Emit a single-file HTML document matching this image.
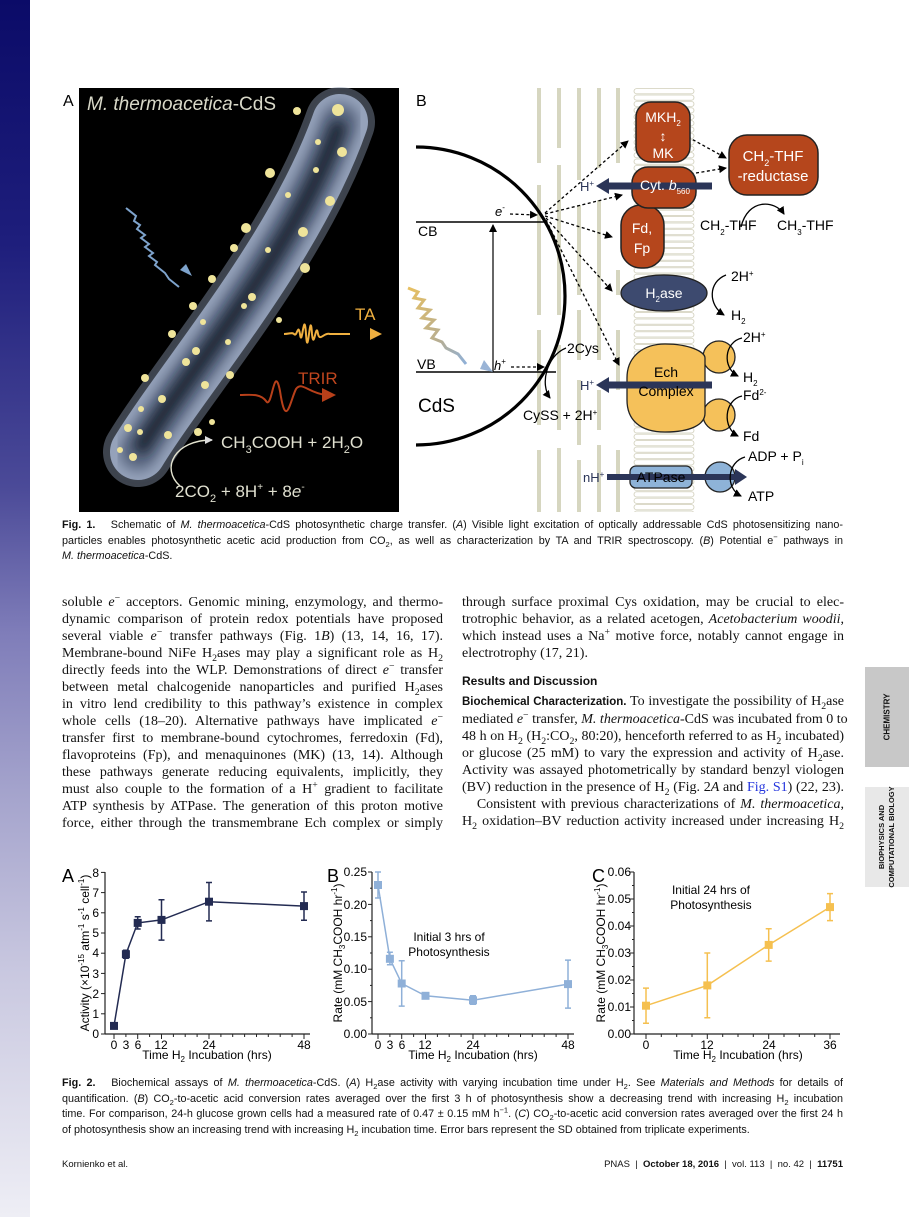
<!DOCTYPE html>
<html><head><meta charset="utf-8">
<style>
html,body{margin:0;padding:0;background:#fff;}
body{width:909px;height:1217px;position:relative;overflow:hidden;font-family:"Liberation Serif",serif;color:#111;}
.band{position:absolute;left:0;top:0;width:30px;height:1217px;background:linear-gradient(to bottom,#0b0b68 0%,#1e1e7c 20%,#4b4a98 40%,#7f7db9 52%,#a4a3cc 65%,#c9c8e0 80%,#eeeef5 100%);}
.col{position:absolute;font-size:14px;line-height:17px;}
.col div{text-align:justify;text-align-last:justify;white-space:nowrap;}
.col div.l{text-align-last:left;}
.cap{position:absolute;left:62px;width:781px;font-family:"Liberation Sans",sans-serif;font-size:10.8px;line-height:15.6px;}
.cap div{text-align:justify;text-align-last:justify;white-space:nowrap;}
.cap div.l{text-align-last:left;}
.sans{font-family:"Liberation Sans",sans-serif;}
sub,sup{font-size:70%;line-height:0;}
.tab{position:absolute;left:865px;width:44px;font-family:"Liberation Sans",sans-serif;font-weight:bold;font-size:8px;}
</style></head><body>
<div class="band"></div>
<svg width="909" height="1217" style="position:absolute;left:0;top:0" font-family="Liberation Sans, sans-serif">
<defs>
<marker id="ah" markerWidth="8" markerHeight="8" refX="7" refY="4" orient="auto" markerUnits="userSpaceOnUse"><path d="M0,0 L8,4 L0,8 z" fill="#000"/></marker>
<marker id="ahl" markerWidth="8" markerHeight="8" refX="7" refY="4" orient="auto" markerUnits="userSpaceOnUse"><path d="M0,0 L8,4 L0,8 z" fill="#ddd"/></marker>
<pattern id="lip" x="633" y="88" width="62" height="6.4" patternUnits="userSpaceOnUse"><rect x="1" y="0.6" width="60" height="5.2" rx="2.6" fill="#fff" stroke="#cfcdb8" stroke-width="0.8"/></pattern>
<linearGradient id="wv" x1="0" y1="0" x2="1" y2="1"><stop offset="0" stop-color="#e8c060"/><stop offset="0.6" stop-color="#b8ae90"/><stop offset="1" stop-color="#8fb0d8"/></linearGradient>
<filter id="bl"><feGaussianBlur stdDeviation="6"/></filter>
</defs>

<!-- PANEL A -->
<text x="63" y="106" font-size="16">A</text>
<rect x="79" y="88" width="320" height="424" fill="#000"/>
<path d="M138,452 C185,375 295,250 340,122" stroke="#8894aa" stroke-opacity="0.45" stroke-width="70" fill="none" stroke-linecap="round"/>
<path d="M138,452 C185,375 295,250 340,122" stroke="#95a2ba" stroke-width="56" fill="none" stroke-linecap="round"/>
<path d="M138,452 C185,375 295,250 340,122" stroke="#5d6a84" stroke-width="38" fill="none" stroke-linecap="round" filter="url(#bl)"/>
<path d="M142,446 C185,375 295,250 338,128" stroke="#1e2636" stroke-width="16" fill="none" stroke-linecap="round" filter="url(#bl)"/>
<g fill="#efe49a">
<circle cx="297" cy="111" r="4"/><circle cx="338" cy="110" r="6"/><circle cx="342" cy="152" r="5"/><circle cx="318" cy="142" r="3"/><circle cx="270" cy="173" r="5"/><circle cx="316" cy="170" r="3"/><circle cx="330" cy="201" r="5"/><circle cx="288" cy="195" r="3"/><circle cx="246" cy="228" r="5"/><circle cx="303" cy="232" r="5"/><circle cx="234" cy="248" r="4"/><circle cx="268" cy="250" r="3"/><circle cx="305" cy="268" r="5"/><circle cx="212" cy="279" r="4"/><circle cx="252" cy="297" r="4"/><circle cx="193" cy="306" r="4"/><circle cx="203" cy="322" r="3"/><circle cx="279" cy="320" r="3"/><circle cx="172" cy="334" r="4"/><circle cx="228" cy="342" r="3"/><circle cx="196" cy="351" r="4"/><circle cx="186" cy="362" r="4"/><circle cx="145" cy="378" r="4"/><circle cx="230" cy="375" r="4"/><circle cx="205" cy="385" r="4"/><circle cx="141" cy="409" r="3"/><circle cx="162" cy="399" r="4"/><circle cx="128" cy="428" r="4"/><circle cx="140" cy="432" r="3"/><circle cx="120" cy="450" r="3"/><circle cx="133" cy="457" r="4"/><circle cx="168" cy="435" r="4"/><circle cx="198" cy="432" r="4"/><circle cx="212" cy="422" r="3"/><circle cx="244" cy="306" r="3"/>
</g>
<text x="87" y="110" font-size="19" fill="#d8d8c8"><tspan font-style="italic">M. thermoacetica</tspan>-CdS</text>
<path d="M126,208 l10,8 l-2,5 l6,4 l-3,4 l8,6 l-4,3 l8,6 l-4,3 l8,6 l-4,3 l8,6 l-2,3 l10,8 l4,6 l10,8" stroke="#7ea3cc" stroke-width="2" fill="none"/>
<path d="M180,270 l12,6 l-6,-12 z" fill="#7ea3cc"/>
<path d="M284,334 c6,0 8,-2 10,0 c3,4 4,-12 6,0 c2,16 4,-28 6,0 c2,30 4,-30 6,0 c2,18 4,-14 6,0 c2,8 6,-2 12,0 l20,0" stroke="#f0b040" stroke-width="2" fill="none"/>
<path d="M370,328 l12,6 l-12,6 z" fill="#f0b040"/>
<text x="355" y="320" font-size="17" fill="#f0b040">TA</text>
<path d="M240,395 c10,0 20,-2 26,6 c6,10 8,-40 14,-10 c6,40 10,10 16,-2 c6,-8 12,4 30,6" stroke="#b8401a" stroke-width="2" fill="none"/>
<path d="M322,388 l14,7 l-14,7 z" fill="#b8401a"/>
<text x="298" y="384" font-size="17" fill="#c0461e">TRIR</text>
<path d="M180,486 C160,468 175,440 212,440" stroke="#e4e4d0" stroke-width="1.4" fill="none" marker-end="url(#ahl)"/>
<text x="221" y="448" font-size="17" fill="#e0e0d0">CH<tspan font-size="11" dy="5">3</tspan><tspan dy="-5">COOH + 2H</tspan><tspan font-size="11" dy="5">2</tspan><tspan dy="-5">O</tspan></text>
<text x="175" y="497" font-size="17" fill="#e0e0d0">2CO<tspan font-size="11" dy="5">2</tspan><tspan dy="-5"> + 8H</tspan><tspan font-size="10" dy="-7">+</tspan><tspan dy="7"> + 8</tspan><tspan font-style="italic">e</tspan><tspan font-size="10" dy="-7">-</tspan></text>

<!-- PANEL B -->
<text x="416" y="106" font-size="16">B</text>
<g fill="#d6d6c0">
<rect x="537" y="88" width="4" height="75"/><rect x="537" y="185" width="4" height="130"/><rect x="537" y="330" width="4" height="95"/><rect x="537" y="450" width="4" height="62"/>
<rect x="557" y="88" width="4" height="60"/><rect x="557" y="165" width="4" height="150"/><rect x="557" y="345" width="4" height="85"/><rect x="557" y="448" width="4" height="64"/>
<rect x="577" y="88" width="4" height="92"/><rect x="577" y="205" width="4" height="90"/><rect x="577" y="310" width="4" height="50"/><rect x="577" y="380" width="4" height="65"/><rect x="577" y="460" width="4" height="52"/>
<rect x="597" y="88" width="4" height="80"/><rect x="597" y="200" width="4" height="160"/><rect x="597" y="390" width="4" height="40"/><rect x="597" y="445" width="4" height="67"/>
<rect x="616" y="88" width="4" height="75"/><rect x="616" y="270" width="4" height="25"/><rect x="616" y="330" width="4" height="60"/><rect x="616" y="450" width="4" height="62"/>
</g>
<rect x="633" y="88" width="62" height="424" fill="url(#lip)"/>
<path d="M416,147 A149,149 0 0 1 416,445" stroke="#000" stroke-width="3.2" fill="none"/>
<line x1="416" y1="222" x2="546" y2="222" stroke="#000" stroke-width="1.5"/>
<line x1="416" y1="372" x2="556" y2="372" stroke="#000" stroke-width="1.5"/>
<line x1="493" y1="372" x2="493" y2="225" stroke="#000" stroke-width="1.2" marker-end="url(#ah)"/>
<text x="418" y="236" font-size="14">CB</text>
<text x="417" y="369" font-size="14">VB</text>
<text x="418" y="412" font-size="19">CdS</text>
<path d="M408,288 l10,4 l-4,6 l10,2 l-6,8 l12,2 l-8,8 l12,2 l-8,8 l12,2 l-6,8 l10,4 l4,6 l12,6 l8,10" stroke="url(#wv)" stroke-width="3" fill="none"/>
<path d="M484,360 l9,12 l-13,-3 z" fill="#9ab4d6"/>
<text x="495" y="216" font-size="13" font-style="italic">e<tspan font-size="8" dy="-6" font-style="normal">-</tspan></text>
<text x="494" y="370" font-size="13" font-style="italic">h<tspan font-size="8" dy="-6" font-style="normal">+</tspan></text>
<g stroke="#000" stroke-width="1.3" stroke-dasharray="3,2.5" fill="none" marker-end="url(#ah)">
<line x1="510" y1="214" x2="537" y2="215"/>
<line x1="511" y1="367" x2="544" y2="367"/>
<line x1="545" y1="213" x2="628" y2="141"/>
<line x1="545" y1="214" x2="622" y2="195"/>
<line x1="545" y1="216" x2="612" y2="237"/>
<line x1="546" y1="218" x2="612" y2="291"/>
<line x1="546" y1="220" x2="619" y2="365"/>
<line x1="688" y1="137" x2="726" y2="158"/>
<line x1="696" y1="173" x2="726" y2="168"/>
</g>
<rect x="729" y="135" width="89" height="60" rx="18" fill="#b5461c" stroke="#222" stroke-width="1.5"/>
<text x="773" y="161" font-size="15" fill="#fff" text-anchor="middle">CH<tspan font-size="9" dy="5">2</tspan><tspan dy="-5">-THF</tspan></text>
<text x="773" y="181" font-size="15" fill="#fff" text-anchor="middle">-reductase</text>
<path d="M741,227 C748,198 775,200 784,214" stroke="#000" stroke-width="1.3" fill="none" marker-end="url(#ah)"/>
<text x="700" y="230" font-size="14">CH<tspan font-size="8" dy="5">2</tspan><tspan dy="-5">-THF</tspan></text>
<text x="777" y="230" font-size="14">CH<tspan font-size="8" dy="5">3</tspan><tspan dy="-5">-THF</tspan></text>
<rect x="636" y="102" width="54" height="60" rx="15" fill="#b5461c" stroke="#222" stroke-width="1.5"/>
<text x="663" y="122" font-size="14" fill="#fff" text-anchor="middle">MKH<tspan font-size="8" dy="4">2</tspan></text>
<text x="663" y="141" font-size="14" fill="#fff" text-anchor="middle">↕</text>
<text x="663" y="158" font-size="14" fill="#fff" text-anchor="middle">MK</text>
<rect x="621" y="205" width="43" height="63" rx="20" fill="#b5461c" stroke="#222" stroke-width="1.5"/>
<text x="642" y="233" font-size="14" fill="#fff" text-anchor="middle">Fd,</text>
<text x="642" y="253" font-size="14" fill="#fff" text-anchor="middle">Fp</text>
<rect x="632" y="167" width="64" height="41" rx="16" fill="#b5461c" stroke="#222" stroke-width="1.5"/>
<path d="M712,186 L606,186" stroke="#2b3558" stroke-width="7"/>
<path d="M609,178 L596,186 L609,194 z" fill="#2b3558"/>
<text x="580" y="191" font-size="13" fill="#2b3558">H<tspan font-size="8" dy="-5">+</tspan></text>
<text x="665" y="190" font-size="14" fill="#fff" text-anchor="middle">Cyt. <tspan font-style="italic">b</tspan><tspan font-size="8" dy="4">560</tspan></text>
<ellipse cx="664" cy="293" rx="43" ry="18" fill="#3d4a6f" stroke="#222" stroke-width="1.3"/>
<text x="664" y="298" font-size="14" fill="#fff" text-anchor="middle">H<tspan font-size="8" dy="4">2</tspan><tspan dy="-4">ase</tspan></text>
<path d="M726,275 C708,282 708,305 724,315" stroke="#000" stroke-width="1.3" fill="none" marker-end="url(#ah)"/>
<text x="731" y="281" font-size="14">2H<tspan font-size="8" dy="-5">+</tspan></text>
<text x="731" y="320" font-size="14">H<tspan font-size="8" dy="4">2</tspan></text>
<circle cx="719" cy="357" r="16" fill="#f5c15a" stroke="#222" stroke-width="1.3"/>
<circle cx="719" cy="415" r="16" fill="#f5c15a" stroke="#222" stroke-width="1.3"/>
<path d="M665,344 C690,344 705,352 705,358 L705,413 C705,425 690,432 665,432 C640,432 627,420 627,400 L627,378 C627,355 645,344 665,344 z" fill="#f5c15a" stroke="#222" stroke-width="1.3"/>
<path d="M712,385 L606,385" stroke="#2b3558" stroke-width="7"/>
<path d="M609,377 L596,385 L609,393 z" fill="#2b3558"/>
<text x="580" y="390" font-size="13" fill="#2b3558">H<tspan font-size="8" dy="-5">+</tspan></text>
<text x="666" y="377" font-size="14" text-anchor="middle">Ech</text>
<text x="666" y="396" font-size="14" text-anchor="middle">Complex</text>
<path d="M742,338 C724,342 722,368 738,376" stroke="#000" stroke-width="1.3" fill="none" marker-end="url(#ah)"/>
<text x="743" y="342" font-size="14">2H<tspan font-size="8" dy="-5">+</tspan></text>
<text x="743" y="382" font-size="14">H<tspan font-size="8" dy="4">2</tspan></text>
<path d="M742,396 C724,400 722,428 738,436" stroke="#000" stroke-width="1.3" fill="none" marker-end="url(#ah)"/>
<text x="743" y="400" font-size="14">Fd<tspan font-size="8" dy="-5">2-</tspan></text>
<text x="743" y="441" font-size="14">Fd</text>
<text x="567" y="353" font-size="14">2Cys</text>
<path d="M566,348 C546,356 540,385 550,398" stroke="#000" stroke-width="1.3" fill="none" marker-end="url(#ah)"/>
<text x="523" y="420" font-size="14">CySS + 2H<tspan font-size="8" dy="-5">+</tspan></text>
<rect x="630" y="466" width="62" height="22" rx="6" fill="#8eb3d8" stroke="#222" stroke-width="1.3"/>
<circle cx="720" cy="477" r="15" fill="#8eb3d8" stroke="#222" stroke-width="1.3"/>
<path d="M607,477 L738,477" stroke="#2b3558" stroke-width="6"/>
<path d="M735,469 L747,477 L735,485 z" fill="#2b3558"/>
<text x="661" y="482" font-size="14" text-anchor="middle">ATPase</text>
<text x="583" y="482" font-size="13" fill="#2b3558">nH<tspan font-size="8" dy="-5">+</tspan></text>
<path d="M745,457 C727,462 725,488 741,496" stroke="#000" stroke-width="1.3" fill="none" marker-end="url(#ah)"/>
<text x="748" y="461" font-size="14">ADP + P<tspan font-size="8" dy="4">i</tspan></text>
<text x="748" y="501" font-size="14">ATP</text>

<!-- CHART A -->
<g font-size="12">
<text x="62" y="882" font-size="18">A</text>
<line x1="105" y1="872" x2="105" y2="1034" stroke="#222" stroke-width="1.2"/>
<line x1="105" y1="1034" x2="310" y2="1034" stroke="#222" stroke-width="1.2"/>
<g stroke="#222" stroke-width="1">
<line x1="101" y1="1034" x2="105" y2="1034"/><line x1="101" y1="1013.8" x2="105" y2="1013.8"/><line x1="101" y1="993.6" x2="105" y2="993.6"/><line x1="101" y1="973.4" x2="105" y2="973.4"/><line x1="101" y1="953.2" x2="105" y2="953.2"/><line x1="101" y1="933" x2="105" y2="933"/><line x1="101" y1="912.8" x2="105" y2="912.8"/><line x1="101" y1="892.6" x2="105" y2="892.6"/><line x1="101" y1="872.4" x2="105" y2="872.4"/>
<line x1="114" y1="1034" x2="114" y2="1039"/><line x1="125.9" y1="1034" x2="125.9" y2="1037"/><line x1="137.7" y1="1034" x2="137.7" y2="1039"/><line x1="149.6" y1="1034" x2="149.6" y2="1037"/><line x1="161.5" y1="1034" x2="161.5" y2="1039"/><line x1="173.4" y1="1034" x2="173.4" y2="1037"/><line x1="185.2" y1="1034" x2="185.2" y2="1037"/><line x1="197.1" y1="1034" x2="197.1" y2="1037"/><line x1="209" y1="1034" x2="209" y2="1039"/><line x1="220.9" y1="1034" x2="220.9" y2="1037"/><line x1="232.7" y1="1034" x2="232.7" y2="1037"/><line x1="244.6" y1="1034" x2="244.6" y2="1037"/><line x1="256.5" y1="1034" x2="256.5" y2="1037"/><line x1="268.3" y1="1034" x2="268.3" y2="1037"/><line x1="280.2" y1="1034" x2="280.2" y2="1037"/><line x1="292.1" y1="1034" x2="292.1" y2="1037"/><line x1="304" y1="1034" x2="304" y2="1039"/>
</g>
<g text-anchor="end"><text x="99" y="1038">0</text><text x="99" y="1018">1</text><text x="99" y="998">2</text><text x="99" y="978">3</text><text x="99" y="957">4</text><text x="99" y="937">5</text><text x="99" y="917">6</text><text x="99" y="897">7</text><text x="99" y="877">8</text></g>
<g text-anchor="middle"><text x="114" y="1049">0</text><text x="126" y="1049">3</text><text x="138" y="1049">6</text><text x="161" y="1049">12</text><text x="209" y="1049">24</text><text x="304" y="1049">48</text></g>
<text x="207" y="1059" text-anchor="middle">Time H<tspan font-size="8" dy="3">2</tspan><tspan dy="-3"> Incubation (hrs)</tspan></text>
<text transform="translate(89,953) rotate(-90)" text-anchor="middle">Activity (×10<tspan font-size="8" dy="-5">-15</tspan><tspan dy="5"> atm</tspan><tspan font-size="8" dy="-5">-1</tspan><tspan dy="5"> s</tspan><tspan font-size="8" dy="-5">-1</tspan><tspan dy="5"> cell</tspan><tspan font-size="8" dy="-5">-1</tspan><tspan dy="5">)</tspan></text>
<g stroke="#232b52" stroke-width="1.5" fill="none">
<polyline points="114,1025.9 125.9,954.2 137.7,922.9 161.5,919.9 209,901.7 304,906.1"/>
<path d="M125.9,950.2V958.2M122.9,950.2h6M122.9,958.2h6 M137.7,916.8V929M134.7,916.8h6M134.7,929h6 M161.5,899.7V940.1M158.5,899.7h6M158.5,940.1h6 M209,882.5V920.9M206,882.5h6M206,920.9h6 M304,892V920.2M301,892h6M301,920.2h6"/>
</g>
<g fill="#232b52"><rect x="110" y="1021.9" width="8" height="8"/><rect x="121.9" y="950.2" width="8" height="8"/><rect x="133.7" y="918.9" width="8" height="8"/><rect x="157.5" y="915.9" width="8" height="8"/><rect x="205" y="897.7" width="8" height="8"/><rect x="300" y="902.1" width="8" height="8"/></g>
</g>

<!-- CHART B -->
<g font-size="12">
<text x="327" y="882" font-size="18">B</text>
<line x1="372" y1="872" x2="372" y2="1034" stroke="#222" stroke-width="1.2"/>
<line x1="372" y1="1034" x2="574" y2="1034" stroke="#222" stroke-width="1.2"/>
<g stroke="#222" stroke-width="1">
<line x1="368" y1="1034" x2="372" y2="1034"/><line x1="370" y1="1017.8" x2="372" y2="1017.8"/><line x1="368" y1="1001.6" x2="372" y2="1001.6"/><line x1="370" y1="985.4" x2="372" y2="985.4"/><line x1="368" y1="969.2" x2="372" y2="969.2"/><line x1="370" y1="953" x2="372" y2="953"/><line x1="368" y1="936.8" x2="372" y2="936.8"/><line x1="370" y1="920.6" x2="372" y2="920.6"/><line x1="368" y1="904.4" x2="372" y2="904.4"/><line x1="370" y1="888.2" x2="372" y2="888.2"/><line x1="368" y1="872" x2="372" y2="872"/>
<line x1="378" y1="1034" x2="378" y2="1039"/><line x1="389.9" y1="1034" x2="389.9" y2="1037"/><line x1="401.7" y1="1034" x2="401.7" y2="1039"/><line x1="413.6" y1="1034" x2="413.6" y2="1037"/><line x1="425.5" y1="1034" x2="425.5" y2="1039"/><line x1="437.4" y1="1034" x2="437.4" y2="1037"/><line x1="449.2" y1="1034" x2="449.2" y2="1037"/><line x1="461.1" y1="1034" x2="461.1" y2="1037"/><line x1="473" y1="1034" x2="473" y2="1039"/><line x1="484.9" y1="1034" x2="484.9" y2="1037"/><line x1="496.7" y1="1034" x2="496.7" y2="1037"/><line x1="508.6" y1="1034" x2="508.6" y2="1037"/><line x1="520.5" y1="1034" x2="520.5" y2="1037"/><line x1="532.3" y1="1034" x2="532.3" y2="1037"/><line x1="544.2" y1="1034" x2="544.2" y2="1037"/><line x1="556.1" y1="1034" x2="556.1" y2="1037"/><line x1="568" y1="1034" x2="568" y2="1039"/>
</g>
<g text-anchor="end"><text x="367" y="1038">0.00</text><text x="367" y="1006">0.05</text><text x="367" y="973">0.10</text><text x="367" y="941">0.15</text><text x="367" y="909">0.20</text><text x="367" y="876">0.25</text></g>
<g text-anchor="middle"><text x="378" y="1049">0</text><text x="390" y="1049">3</text><text x="402" y="1049">6</text><text x="425" y="1049">12</text><text x="473" y="1049">24</text><text x="568" y="1049">48</text></g>
<text x="473" y="1059" text-anchor="middle">Time H<tspan font-size="8" dy="3">2</tspan><tspan dy="-3"> Incubation (hrs)</tspan></text>
<text transform="translate(342,953) rotate(-90)" text-anchor="middle">Rate (mM CH<tspan font-size="8" dy="3">3</tspan><tspan dy="-3">COOH hr</tspan><tspan font-size="8" dy="-5">-1</tspan><tspan dy="5">)</tspan></text>
<text x="449" y="941" text-anchor="middle">Initial 3 hrs of</text>
<text x="449" y="956" text-anchor="middle">Photosynthesis</text>
<g stroke="#8fb0d8" stroke-width="1.5" fill="none">
<polyline points="378,885 389.9,958.8 401.7,983.5 425.5,995.8 473,1000.3 568,984.1"/>
<path d="M378,872V898M375,872h6M375,898h6 M389.9,952.3V964.7M386.9,952.3h6M386.9,964.7h6 M401.7,960.8V1006.1M398.7,960.8h6M398.7,1006.1h6 M473,995.8V1004.2M470,995.8h6M470,1004.2h6 M568,960.1V1008.1M565,960.1h6M565,1008.1h6"/>
</g>
<g fill="#8fb0d8"><rect x="374" y="881" width="8" height="8"/><rect x="385.9" y="954.8" width="8" height="8"/><rect x="397.7" y="979.5" width="8" height="8"/><rect x="421.5" y="991.8" width="8" height="8"/><rect x="469" y="996.3" width="8" height="8"/><rect x="564" y="980.1" width="8" height="8"/></g>
</g>

<!-- CHART C -->
<g font-size="12">
<text x="592" y="882" font-size="18">C</text>
<line x1="634" y1="872" x2="634" y2="1034" stroke="#222" stroke-width="1.2"/>
<line x1="634" y1="1034" x2="840" y2="1034" stroke="#222" stroke-width="1.2"/>
<g stroke="#222" stroke-width="1">
<line x1="630" y1="1034" x2="634" y2="1034"/><line x1="632" y1="1020.5" x2="634" y2="1020.5"/><line x1="630" y1="1007" x2="634" y2="1007"/><line x1="632" y1="993.5" x2="634" y2="993.5"/><line x1="630" y1="980" x2="634" y2="980"/><line x1="632" y1="966.5" x2="634" y2="966.5"/><line x1="630" y1="953" x2="634" y2="953"/><line x1="632" y1="939.5" x2="634" y2="939.5"/><line x1="630" y1="926" x2="634" y2="926"/><line x1="632" y1="912.5" x2="634" y2="912.5"/><line x1="630" y1="899" x2="634" y2="899"/><line x1="632" y1="885.5" x2="634" y2="885.5"/><line x1="630" y1="872" x2="634" y2="872"/>
<line x1="646" y1="1034" x2="646" y2="1039"/><line x1="661.3" y1="1034" x2="661.3" y2="1037"/><line x1="676.7" y1="1034" x2="676.7" y2="1037"/><line x1="692" y1="1034" x2="692" y2="1037"/><line x1="707.3" y1="1034" x2="707.3" y2="1039"/><line x1="722.7" y1="1034" x2="722.7" y2="1037"/><line x1="738" y1="1034" x2="738" y2="1037"/><line x1="753.3" y1="1034" x2="753.3" y2="1037"/><line x1="768.7" y1="1034" x2="768.7" y2="1039"/><line x1="784" y1="1034" x2="784" y2="1037"/><line x1="799.3" y1="1034" x2="799.3" y2="1037"/><line x1="814.7" y1="1034" x2="814.7" y2="1037"/><line x1="830" y1="1034" x2="830" y2="1039"/>
</g>
<g text-anchor="end"><text x="631" y="1038">0.00</text><text x="631" y="1011">0.01</text><text x="631" y="984">0.02</text><text x="631" y="957">0.03</text><text x="631" y="930">0.04</text><text x="631" y="903">0.05</text><text x="631" y="876">0.06</text></g>
<g text-anchor="middle"><text x="646" y="1049">0</text><text x="707" y="1049">12</text><text x="769" y="1049">24</text><text x="830" y="1049">36</text></g>
<text x="738" y="1059" text-anchor="middle">Time H<tspan font-size="8" dy="3">2</tspan><tspan dy="-3"> Incubation (hrs)</tspan></text>
<text transform="translate(605,953) rotate(-90)" text-anchor="middle">Rate (mM CH<tspan font-size="8" dy="3">3</tspan><tspan dy="-3">COOH hr</tspan><tspan font-size="8" dy="-5">-1</tspan><tspan dy="5">)</tspan></text>
<text x="711" y="894" text-anchor="middle">Initial 24 hrs of</text>
<text x="711" y="909" text-anchor="middle">Photosynthesis</text>
<g stroke="#f5c050" stroke-width="1.5" fill="none">
<polyline points="646,1005.7 707.3,985.4 768.7,944.9 830,907.1"/>
<path d="M646,988.1V1023.2M643,988.1h6M643,1023.2h6 M707.3,953V1017.8M704.3,953h6M704.3,1017.8h6 M768.7,928.7V961.1M765.7,928.7h6M765.7,961.1h6 M830,893.6V920.6M827,893.6h6M827,920.6h6"/>
</g>
<g fill="#f5c050"><rect x="642" y="1001.7" width="8" height="8"/><rect x="703.3" y="981.4" width="8" height="8"/><rect x="764.7" y="940.9" width="8" height="8"/><rect x="826" y="903.1" width="8" height="8"/></g>
</g>
</svg>

<div class="cap" style="top:518px">
<div><b>Fig. 1.</b>&nbsp;&nbsp; Schematic of <i>M. thermoacetica</i>-CdS photosynthetic charge transfer. (<i>A</i>) Visible light excitation of optically addressable CdS photosensitizing nano-</div>
<div>particles enables photosynthetic acetic acid production from CO<sub>2</sub>, as well as characterization by TA and TRIR spectroscopy. (<i>B</i>) Potential e<sup>−</sup> pathways in</div>
<div class="l"><i>M. thermoacetica</i>-CdS.</div>
</div>

<div class="col" style="left:62px;top:594px;width:381px">
<div>soluble <i>e</i><sup>−</sup> acceptors. Genomic mining, enzymology, and thermo-</div>
<div>dynamic comparison of protein redox potentials have proposed</div>
<div>several viable <i>e</i><sup>−</sup> transfer pathways (Fig. 1<i>B</i>) (13, 14, 16, 17).</div>
<div>Membrane-bound NiFe H<sub>2</sub>ases may play a significant role as H<sub>2</sub></div>
<div>directly feeds into the WLP. Demonstrations of direct <i>e</i><sup>−</sup> transfer</div>
<div>between metal chalcogenide nanoparticles and purified H<sub>2</sub>ases</div>
<div>in vitro lend credibility to this pathway’s existence in complex</div>
<div>whole cells (18–20). Alternative pathways have implicated <i>e</i><sup>−</sup></div>
<div>transfer first to membrane-bound cytochromes, ferredoxin (Fd),</div>
<div>flavoproteins (Fp), and menaquinones (MK) (13, 14). Although</div>
<div>these pathways generate reducing equivalents, implicitly, they</div>
<div>must also couple to the formation of a H<sup>+</sup> gradient to facilitate</div>
<div>ATP synthesis by ATPase. The generation of this proton motive</div>
<div>force, either through the transmembrane Ech complex or simply</div>
</div>

<div class="col" style="left:462px;top:594px;width:382px">
<div>through surface proximal Cys oxidation, may be crucial to elec-</div>
<div>trotrophic behavior, as a related acetogen, <i>Acetobacterium woodii</i>,</div>
<div>which instead uses a Na<sup>+</sup> motive force, notably cannot engage in</div>
<div class="l">electrotrophy (17, 21).</div>
<div class="l sans" style="font-weight:bold;font-size:12px;margin-top:11px;">Results and Discussion</div>
<div style="margin-top:3px"><b class="sans" style="font-size:11.5px">Biochemical Characterization.</b> To investigate the possibility of H<sub>2</sub>ase</div>
<div>mediated <i>e</i><sup>−</sup> transfer, <i>M. thermoacetica</i>-CdS was incubated from 0 to</div>
<div>48 h on H<sub>2</sub> (H<sub>2</sub>:CO<sub>2</sub>, 80:20), henceforth referred to as H<sub>2</sub> incubated)</div>
<div>or glucose (25 mM) to vary the expression and activity of H<sub>2</sub>ase.</div>
<div>Activity was assayed photometrically by standard benzyl viologen</div>
<div>(BV) reduction in the presence of H<sub>2</sub> (Fig. 2<i>A</i> and <span style="color:#2233dd">Fig. S1</span>) (22, 23).</div>
<div>&nbsp;&nbsp;&nbsp;Consistent with previous characterizations of <i>M. thermoacetica</i>,</div>
<div>H<sub>2</sub> oxidation–BV reduction activity increased under increasing H<sub>2</sub></div>
</div>

<div class="tab" style="top:667px;height:100px;background:#c8c8c8;">
<div style="position:absolute;left:22px;top:50px;transform:translate(-50%,-50%) rotate(-90deg);white-space:nowrap;">CHEMISTRY</div></div>
<div class="tab" style="top:787px;height:100px;background:#e8e8e8;">
<div style="position:absolute;left:22px;top:50px;transform:translate(-50%,-50%) rotate(-90deg);white-space:nowrap;text-align:center;line-height:10px;font-size:7.5px;">BIOPHYSICS AND<br>COMPUTATIONAL BIOLOGY</div></div>

<div class="cap" style="top:1076px">
<div><b>Fig. 2.</b>&nbsp;&nbsp; Biochemical assays of <i>M. thermoacetica</i>-CdS. (<i>A</i>) H<sub>2</sub>ase activity with varying incubation time under H<sub>2</sub>. See <i>Materials and Methods</i> for details of</div>
<div>quantification. (<i>B</i>) CO<sub>2</sub>-to-acetic acid conversion rates averaged over the first 3 h of photosynthesis show a decreasing trend with increasing H<sub>2</sub> incubation</div>
<div>time. For comparison, 24-h glucose grown cells had a measured rate of 0.47 ± 0.15 mM h<sup>−1</sup>. (<i>C</i>) CO<sub>2</sub>-to-acetic acid conversion rates averaged over the first 24 h</div>
<div class="l">of photosynthesis show an increasing trend with increasing H<sub>2</sub> incubation time. Error bars represent the SD obtained from triplicate experiments.</div>
</div>

<div class="sans" style="position:absolute;left:62px;top:1159px;font-size:9.5px;">Kornienko et al.</div>
<div class="sans" style="position:absolute;right:66px;top:1159px;font-size:9.5px;">PNAS &nbsp;|&nbsp; <b>October 18, 2016</b> &nbsp;|&nbsp; vol. 113 &nbsp;|&nbsp; no. 42 &nbsp;|&nbsp; <b>11751</b></div>
</body></html>
